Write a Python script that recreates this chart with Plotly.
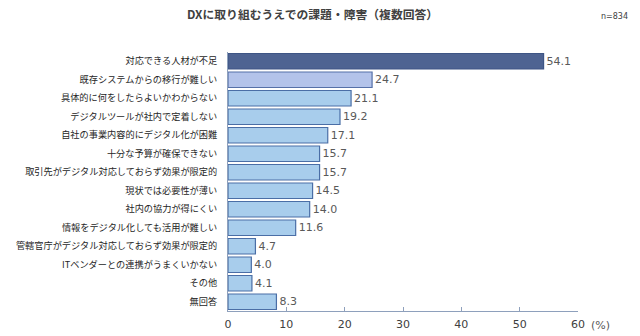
import plotly.graph_objects as go

categories = [
    "対応できる人材が不足",
    "既存システムからの移行が難しい",
    "具体的に何をしたらよいかわからない",
    "デジタルツールが社内で定着しない",
    "自社の事業内容的にデジタル化が困難",
    "十分な予算が確保できない",
    "取引先がデジタル対応しておらず効果が限定的",
    "現状では必要性が薄い",
    "社内の協力が得にくい",
    "情報をデジタル化しても活用が難しい",
    "管轄官庁がデジタル対応しておらず効果が限定的",
    "ITベンダーとの連携がうまくいかない",
    "その他",
    "無回答",
]
values = [54.1, 24.7, 21.1, 19.2, 17.1, 15.7, 15.7, 14.5, 14.0, 11.6, 4.7, 4.0, 4.1, 8.3]
tick_vals = [0, 10, 20, 30, 40, 50, 60]

colors = ["#4E6392", "#B3C3EA"] + ["#A8CDEC"] * (len(values) - 2)
line_colors = ["#3E5585", "#5570A8"] + ["#4A6EA6"] * (len(values) - 2)

fig = go.Figure(go.Bar(
    x=values,
    y=categories,
    orientation="h",
    width=0.84,
    marker=dict(color=colors, line=dict(color=line_colors, width=1.2)),
    text=[f"{v:.1f}" for v in values],
    textposition="outside",
    textfont=dict(size=11, color="#595959", family="DejaVu Sans, Noto Sans CJK JP"),
    cliponaxis=False,
    hoverinfo="skip",
))

W, H = 640, 336
l, r, t, b = 228, 62, 52, 25

fig.update_layout(
    width=W, height=H,
    margin=dict(l=l, r=r, t=t, b=b, autoexpand=False),
    paper_bgcolor="white",
    plot_bgcolor="white",
    showlegend=False,
    font=dict(family="Noto Sans CJK JP", size=9, color="#333333"),
    xaxis=dict(
        range=[0, 60],
        tickvals=tick_vals,
        ticks="inside",
        ticklen=4,
        tickcolor="#8EA0BC",
        showline=True,
        linecolor="#8EA0BC",
        linewidth=1,
        showgrid=False,
        zeroline=False,
        automargin=False,
        ticklabelstandoff=3,
        tickfont=dict(size=11, color="#404040", family="DejaVu Sans, Noto Sans CJK JP"),
        fixedrange=True,
    ),
    yaxis=dict(
        autorange="reversed",
        showline=True,
        linecolor="#8EA0BC",
        linewidth=1,
        ticks="",
        showgrid=False,
        automargin=False,
        ticklabelstandoff=8,
        tickfont=dict(size=9.2, color="#262626", family="Noto Sans CJK JP"),
        fixedrange=True,
    ),
)

pw, ph = W - l - r, H - t - b


def px_ann(text, px, py, size, color, family):
    return dict(text=text, x=(px - l) / pw, y=1 - (py - t) / ph,
                xref="paper", yref="paper", xanchor="center", yanchor="middle",
                showarrow=False, font=dict(size=size, color=color, family=family))


fig.update_layout(annotations=[
    px_ann("<b>DXに取り組むうえでの課題・障害（複数回答）</b>", 312, 13, 11.8, "#404040", "Noto Sans CJK JP"),
    px_ann("n=834", 614, 16, 8, "#404040", "DejaVu Sans"),
    px_ann("(%)", 600, 325, 11, "#595959", "DejaVu Sans"),
])

fig.write_html("out.html")
